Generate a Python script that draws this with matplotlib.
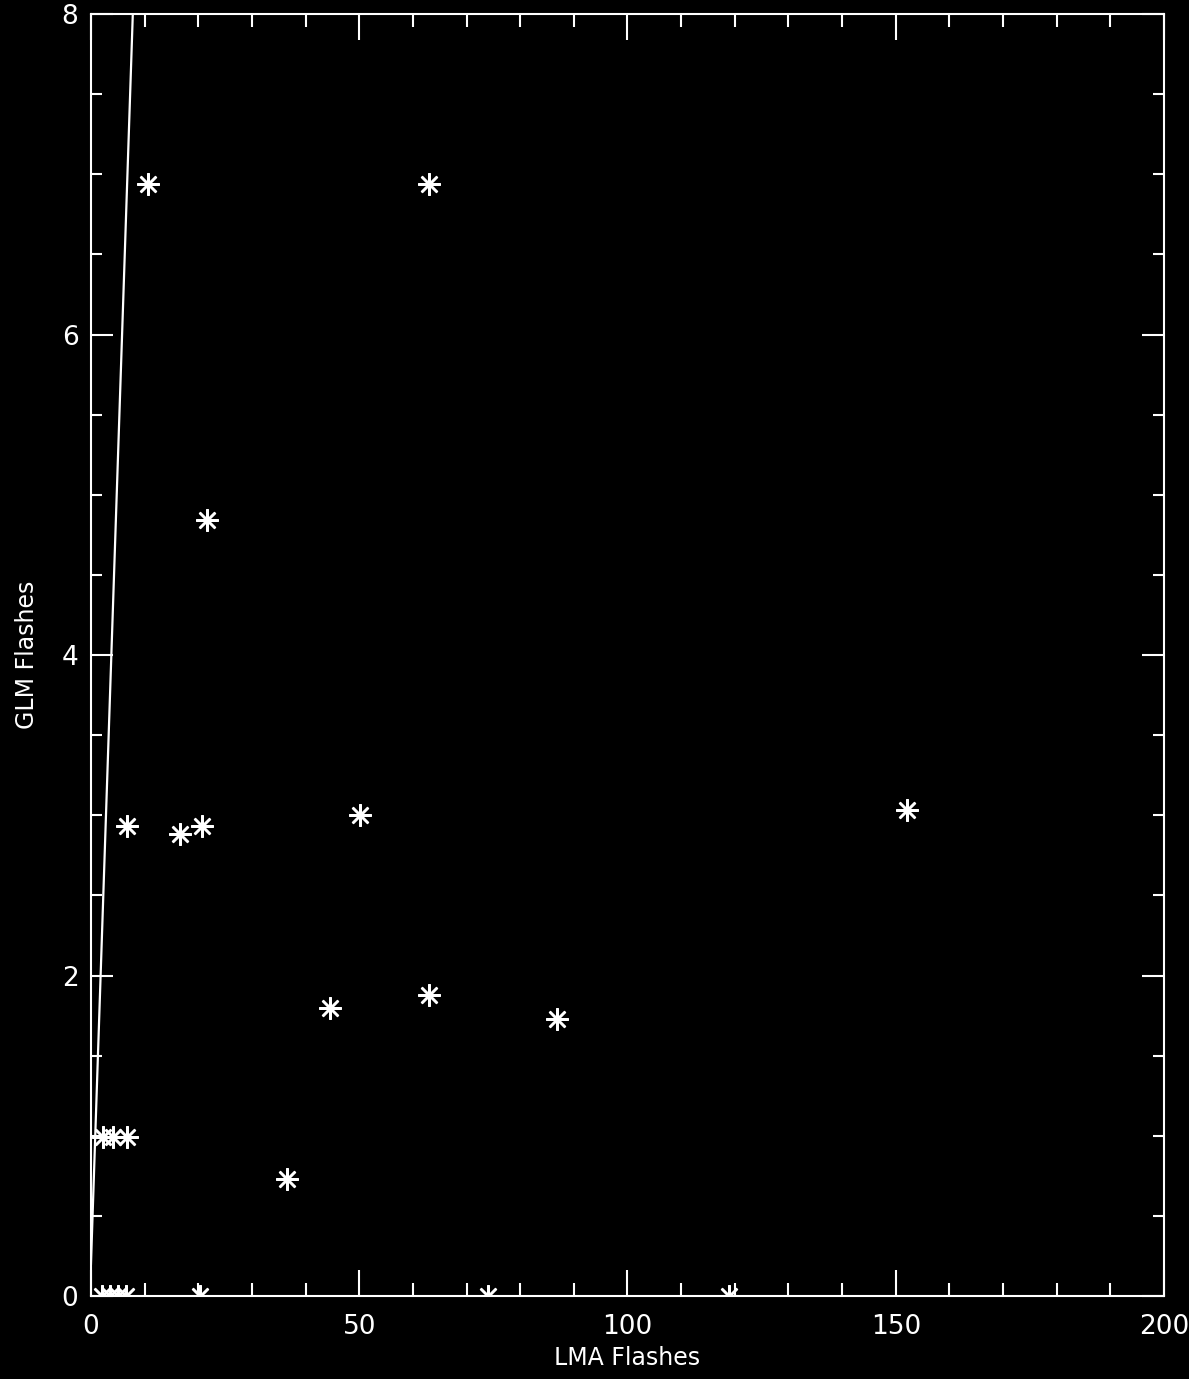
import numpy as np
import matplotlib
matplotlib.use('Agg')
from matplotlib import pyplot as plt
from matplotlib.ticker import MultipleLocator

# LMA vs GLM flash counts
lma = [10.6, 63.0, 21.6, 6.7, 16.6, 20.7, 50.1, 152.1, 44.5, 63.0, 86.9, 36.5,
       2.2, 4.1, 6.7, 2.0, 3.5, 5.0, 6.5, 20.3, 74.0, 118.9]
glm = [6.94, 6.94, 4.84, 2.93, 2.88, 2.93, 3.0, 3.03, 1.80, 1.88, 1.73, 0.73,
       0.99, 0.99, 0.99, 0.0, 0.0, 0.0, 0.0, 0.0, 0.0, 0.0]

# straight fit line
fit_intercept = 0.2
fit_slope = 1.0
fit_x = [0, 200]

fig = plt.figure(figsize=(11.89, 13.79), dpi=100, facecolor='black')
ax = fig.add_axes([0.0765, 0.0602, 0.9025, 0.9296], facecolor='black')

ax.plot(lma, glm, linestyle='none', marker=(8, 2, 0), markersize=16,
        markeredgewidth=1.8, color='white', clip_on=True)
fx = np.array(fit_x, dtype=float)
ax.plot(fx, fit_intercept + fit_slope * fx, color='white', lw=1.6)

ax.set_xlim(0, 200)
ax.set_ylim(0, 8)
ax.xaxis.set_major_locator(MultipleLocator(50))
ax.xaxis.set_minor_locator(MultipleLocator(10))
ax.yaxis.set_major_locator(MultipleLocator(2))
ax.yaxis.set_minor_locator(MultipleLocator(0.5))

for s in ax.spines.values():
    s.set_color('white')
    s.set_linewidth(1.5)

ax.tick_params(which='both', direction='in', top=True, right=True,
               colors='white', width=1.5)
ax.tick_params(axis='x', which='major', length=18.5, pad=13, labelsize=19)
ax.tick_params(axis='x', which='minor', length=9.5)
ax.tick_params(axis='y', which='major', length=15.5, pad=9, labelsize=19)
ax.tick_params(axis='y', which='minor', length=8)

ax.set_xlabel('LMA Flashes', color='white', fontsize=17, labelpad=4)
ax.set_ylabel('GLM Flashes', color='white', fontsize=17, labelpad=16)

fig.savefig('out.png', dpi=100, facecolor='black')
